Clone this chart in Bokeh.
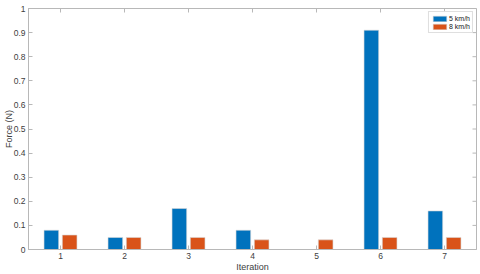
import math
from bokeh.plotting import figure
from bokeh.models import Range1d, FixedTicker, Legend, LegendItem, ColumnDataSource
from bokeh.transform import dodge
from bokeh.embed import file_html
from bokeh.resources import INLINE

iterations = [1, 2, 3, 4, 5, 6, 7]
force_5kmh = [0.08, 0.05, 0.17, 0.08, 0.0, 0.91, 0.16]
force_8kmh = [0.06, 0.05, 0.05, 0.04, 0.04, 0.05, 0.05]
series_labels = ["5 km/h", "8 km/h"]
y_ticks = [0, 0.1, 0.2, 0.3, 0.4, 0.5, 0.6, 0.7, 0.8, 0.9, 1]
y_tick_labels = ["0", "0.1", "0.2", "0.3", "0.4", "0.5", "0.6", "0.7", "0.8", "0.9", "1"]
x_label = "Iteration"
y_label = "Force (N)"

FONT = "Liberation Sans"
AX = "#b8b8b8"
TXT = "#404040"

src = ColumnDataSource(dict(it=iterations, a=force_5kmh, b=force_8kmh))

p = figure(width=480, height=274, output_backend="svg", toolbar_location=None,
           x_range=Range1d(0.5, 7.5), y_range=Range1d(0, 1),
           min_border_left=28, min_border_right=4, min_border_top=8, min_border_bottom=25)
p.background_fill_color = "white"
p.border_fill_color = "white"
p.outline_line_color = AX
p.xgrid.visible = False
p.ygrid.visible = False

r1 = p.vbar(x=dodge("it", -0.143, range=p.x_range), top="a", width=0.229, source=src,
            fill_color="#0072BD", line_color="#d8d8d8", line_width=0.6)
r2 = p.vbar(x=dodge("it", 0.143, range=p.x_range), top="b", width=0.229, source=src,
            fill_color="#D95319", line_color="#d8d8d8", line_width=0.6)

# inward tick marks on the top and right edges of the box
p.scatter(x=iterations, y=[p.y_range.end] * len(iterations), marker="dash", size=8,
          angle=math.pi / 2, line_color=AX, line_width=1)
p.scatter(x=[p.x_range.end] * len(y_ticks), y=y_ticks, marker="dash", size=8,
          line_color=AX, line_width=1)

xt = FixedTicker(ticks=iterations)
yt = FixedTicker(ticks=y_ticks)
overrides = {t: l for t, l in zip(y_ticks, y_tick_labels)}

for ax in p.xaxis:
    ax.ticker = xt
    ax.axis_label = x_label
for ax in p.yaxis:
    ax.ticker = yt
    ax.axis_label = y_label
    ax.major_label_overrides = overrides

for ax in list(p.xaxis) + list(p.yaxis):
    ax.axis_line_color = AX
    ax.major_tick_line_color = AX
    ax.major_tick_in = 4
    ax.major_tick_out = 0
    ax.minor_tick_line_color = None
    ax.major_label_text_font = FONT
    ax.major_label_text_font_size = "8.5px"
    ax.major_label_text_color = TXT
    ax.axis_label_text_font = FONT
    ax.axis_label_text_font_size = "9px"
    ax.axis_label_text_font_style = "normal"
    ax.axis_label_text_color = TXT
p.xaxis.major_label_standoff = 3
p.xaxis.axis_label_standoff = 0
p.yaxis.major_label_standoff = 3
p.yaxis.axis_label_standoff = -3

legend = Legend(items=[LegendItem(label=series_labels[0], renderers=[r1]),
                       LegendItem(label=series_labels[1], renderers=[r2])],
                location="top_right", margin=3, padding=2, spacing=0,
                glyph_width=17, glyph_height=7, label_height=8, label_standoff=1,
                label_text_font=FONT, label_text_font_size="7px", label_text_color="#202020",
                border_line_color="#c0c0c0", background_fill_color="white")
p.add_layout(legend)

open("out.html", "w").write(file_html(p, INLINE))
